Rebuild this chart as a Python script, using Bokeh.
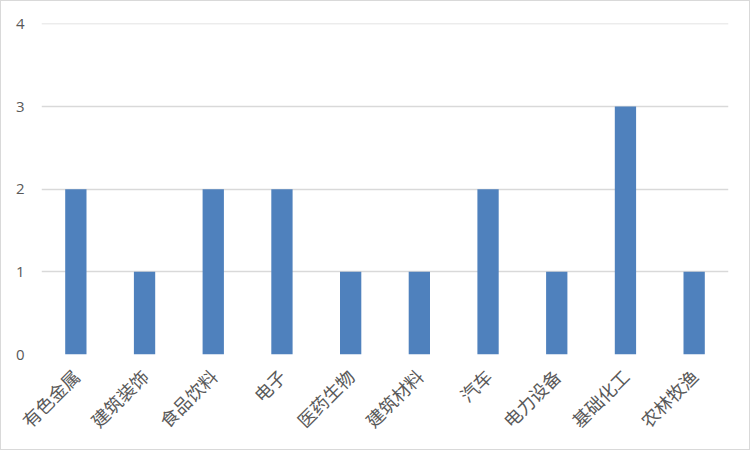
from bokeh.plotting import figure
from bokeh.models import ColumnDataSource, FixedTicker, Range1d
from bokeh.embed import file_html
from bokeh.resources import INLINE
import math

categories = ["有色金属", "建筑装饰", "食品饮料", "电子", "医药生物",
              "建筑材料", "汽车", "电力设备", "基础化工", "农林牧渔"]
counts = [2, 1, 2, 2, 1, 1, 2, 1, 3, 1]
y_ticks = [0, 1, 2, 3, 4]

source = ColumnDataSource(data=dict(cat=categories, val=counts))

p = figure(x_range=categories, y_range=Range1d(0, 4.006), width=750, height=450,
           output_backend="svg", toolbar_location=None,
           min_border_left=40, min_border_right=23,
           min_border_top=22, min_border_bottom=97)
p.styles = {"border": "1px solid #d9d9d9"}

p.vbar(x="cat", top="val", width=0.31, source=source,
       fill_color="#4f81bd", line_color=None)

p.outline_line_color = None
p.xgrid.grid_line_color = None
p.ygrid.grid_line_color = "#d9d9d9"
p.ygrid.grid_line_width = 1.5
p.yaxis.ticker = FixedTicker(ticks=y_ticks)
p.yaxis.axis_line_color = None
p.yaxis.major_tick_line_color = None
p.yaxis.minor_tick_line_color = None
p.yaxis.major_label_text_color = "#595959"
p.yaxis.major_label_text_font = "Open Sans"
p.yaxis.major_label_text_font_size = "15px"
p.yaxis.major_label_standoff = 11

p.xaxis.axis_line_color = None
p.xaxis.major_tick_line_color = None
p.xaxis.minor_tick_line_color = None
p.xaxis.major_label_orientation = math.pi / 4
p.xaxis.major_label_text_color = "#595959"
p.xaxis.major_label_text_font = "Noto Sans CJK SC"
p.xaxis.major_label_text_font_size = "18px"
p.xaxis.major_label_standoff = 12

open("out.html", "w").write(file_html(p, INLINE))
